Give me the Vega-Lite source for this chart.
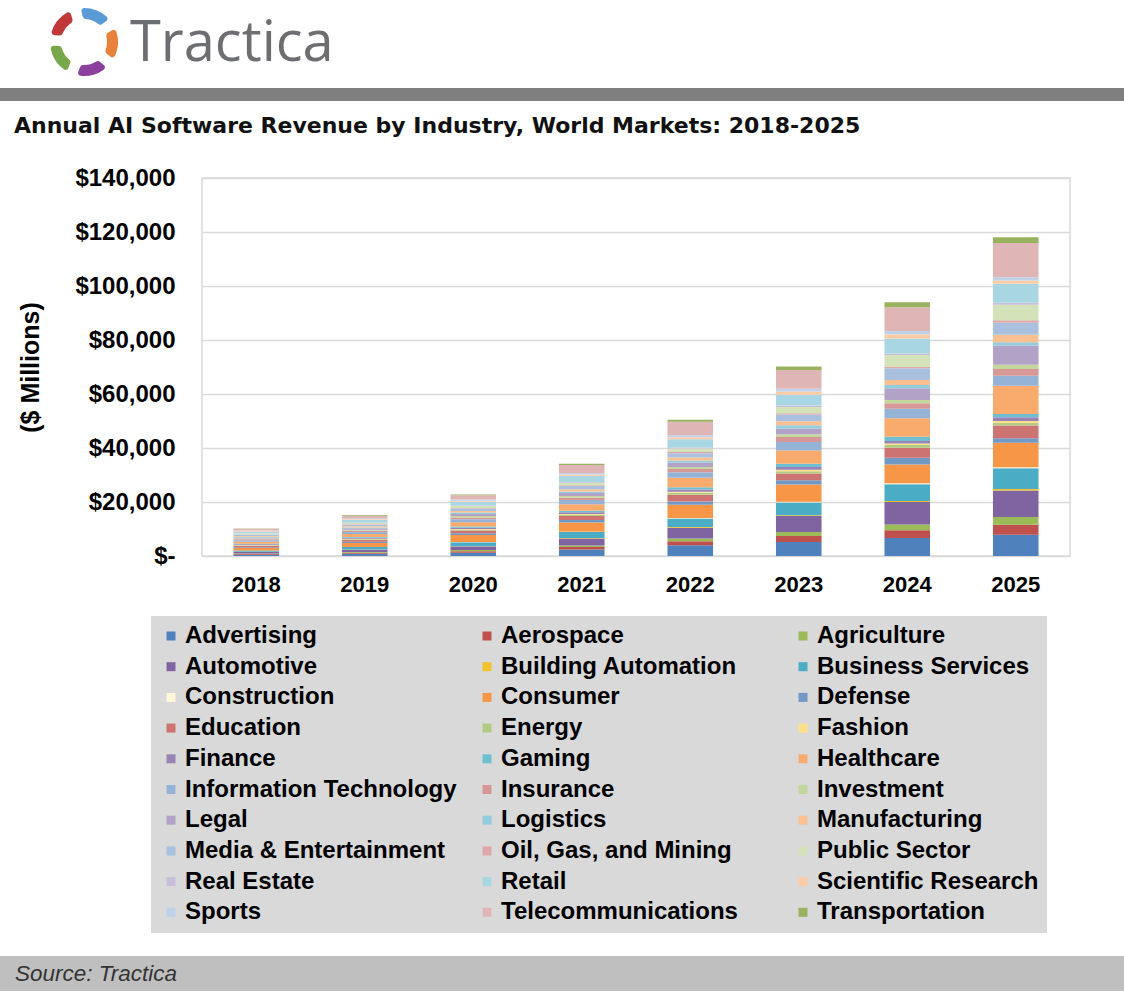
{
  "$schema": "https://vega.github.io/schema/vega-lite/v6.json",
  "padding": 0,
  "background": "white",
  "spacing": 0,
  "config": {
    "view": {"stroke": null},
    "concat": {"spacing": 0},
    "font": "Liberation Sans"
  },
  "resolve": {"scale": {"color": "independent"}, "legend": {"color": "independent"}},
  "datasets": {
    "logo": [
      {"petal": "blue", "seq": 1, "share": 1},
      {"petal": "orange", "seq": 2, "share": 1},
      {"petal": "purple", "seq": 3, "share": 1},
      {"petal": "green", "seq": 4, "share": 1},
      {"petal": "red", "seq": 5, "share": 1}
    ],
    "revenue": [
      {"year":"2018","industry":"Advertising","revenue":500},
      {"year":"2018","industry":"Aerospace","revenue":250},
      {"year":"2018","industry":"Agriculture","revenue":150},
      {"year":"2018","industry":"Automotive","revenue":600},
      {"year":"2018","industry":"Building Automation","revenue":30},
      {"year":"2018","industry":"Business Services","revenue":500},
      {"year":"2018","industry":"Construction","revenue":30},
      {"year":"2018","industry":"Consumer","revenue":900},
      {"year":"2018","industry":"Defense","revenue":300},
      {"year":"2018","industry":"Education","revenue":500},
      {"year":"2018","industry":"Energy","revenue":200},
      {"year":"2018","industry":"Fashion","revenue":100},
      {"year":"2018","industry":"Finance","revenue":250},
      {"year":"2018","industry":"Gaming","revenue":200},
      {"year":"2018","industry":"Healthcare","revenue":800},
      {"year":"2018","industry":"Information Technology","revenue":500},
      {"year":"2018","industry":"Insurance","revenue":400},
      {"year":"2018","industry":"Investment","revenue":250},
      {"year":"2018","industry":"Legal","revenue":400},
      {"year":"2018","industry":"Logistics","revenue":250},
      {"year":"2018","industry":"Manufacturing","revenue":300},
      {"year":"2018","industry":"Media & Entertainment","revenue":450},
      {"year":"2018","industry":"Oil, Gas, and Mining","revenue":100},
      {"year":"2018","industry":"Public Sector","revenue":350},
      {"year":"2018","industry":"Real Estate","revenue":100},
      {"year":"2018","industry":"Retail","revenue":700},
      {"year":"2018","industry":"Scientific Research","revenue":200},
      {"year":"2018","industry":"Sports","revenue":150},
      {"year":"2018","industry":"Telecommunications","revenue":600},
      {"year":"2018","industry":"Transportation","revenue":150},
      {"year":"2019","industry":"Advertising","revenue":800},
      {"year":"2019","industry":"Aerospace","revenue":400},
      {"year":"2019","industry":"Agriculture","revenue":250},
      {"year":"2019","industry":"Automotive","revenue":900},
      {"year":"2019","industry":"Building Automation","revenue":50},
      {"year":"2019","industry":"Business Services","revenue":900},
      {"year":"2019","industry":"Construction","revenue":50},
      {"year":"2019","industry":"Consumer","revenue":1500},
      {"year":"2019","industry":"Defense","revenue":400},
      {"year":"2019","industry":"Education","revenue":700},
      {"year":"2019","industry":"Energy","revenue":300},
      {"year":"2019","industry":"Fashion","revenue":150},
      {"year":"2019","industry":"Finance","revenue":350},
      {"year":"2019","industry":"Gaming","revenue":300},
      {"year":"2019","industry":"Healthcare","revenue":1100},
      {"year":"2019","industry":"Information Technology","revenue":700},
      {"year":"2019","industry":"Insurance","revenue":500},
      {"year":"2019","industry":"Investment","revenue":350},
      {"year":"2019","industry":"Legal","revenue":550},
      {"year":"2019","industry":"Logistics","revenue":350},
      {"year":"2019","industry":"Manufacturing","revenue":400},
      {"year":"2019","industry":"Media & Entertainment","revenue":600},
      {"year":"2019","industry":"Oil, Gas, and Mining","revenue":150},
      {"year":"2019","industry":"Public Sector","revenue":500},
      {"year":"2019","industry":"Real Estate","revenue":150},
      {"year":"2019","industry":"Retail","revenue":1000},
      {"year":"2019","industry":"Scientific Research","revenue":300},
      {"year":"2019","industry":"Sports","revenue":250},
      {"year":"2019","industry":"Telecommunications","revenue":1000},
      {"year":"2019","industry":"Transportation","revenue":250},
      {"year":"2020","industry":"Advertising","revenue":1200},
      {"year":"2020","industry":"Aerospace","revenue":600},
      {"year":"2020","industry":"Agriculture","revenue":400},
      {"year":"2020","industry":"Automotive","revenue":1300},
      {"year":"2020","industry":"Building Automation","revenue":100},
      {"year":"2020","industry":"Business Services","revenue":1500},
      {"year":"2020","industry":"Construction","revenue":100},
      {"year":"2020","industry":"Consumer","revenue":2600},
      {"year":"2020","industry":"Defense","revenue":600},
      {"year":"2020","industry":"Education","revenue":1000},
      {"year":"2020","industry":"Energy","revenue":400},
      {"year":"2020","industry":"Fashion","revenue":200},
      {"year":"2020","industry":"Finance","revenue":500},
      {"year":"2020","industry":"Gaming","revenue":400},
      {"year":"2020","industry":"Healthcare","revenue":1600},
      {"year":"2020","industry":"Information Technology","revenue":1100},
      {"year":"2020","industry":"Insurance","revenue":700},
      {"year":"2020","industry":"Investment","revenue":500},
      {"year":"2020","industry":"Legal","revenue":800},
      {"year":"2020","industry":"Logistics","revenue":500},
      {"year":"2020","industry":"Manufacturing","revenue":600},
      {"year":"2020","industry":"Media & Entertainment","revenue":900},
      {"year":"2020","industry":"Oil, Gas, and Mining","revenue":200},
      {"year":"2020","industry":"Public Sector","revenue":700},
      {"year":"2020","industry":"Real Estate","revenue":200},
      {"year":"2020","industry":"Retail","revenue":1400},
      {"year":"2020","industry":"Scientific Research","revenue":400},
      {"year":"2020","industry":"Sports","revenue":400},
      {"year":"2020","industry":"Telecommunications","revenue":1600},
      {"year":"2020","industry":"Transportation","revenue":300},
      {"year":"2021","industry":"Advertising","revenue":2400},
      {"year":"2021","industry":"Aerospace","revenue":900},
      {"year":"2021","industry":"Agriculture","revenue":600},
      {"year":"2021","industry":"Automotive","revenue":2600},
      {"year":"2021","industry":"Building Automation","revenue":150},
      {"year":"2021","industry":"Business Services","revenue":2200},
      {"year":"2021","industry":"Construction","revenue":150},
      {"year":"2021","industry":"Consumer","revenue":3400},
      {"year":"2021","industry":"Defense","revenue":900},
      {"year":"2021","industry":"Education","revenue":1500},
      {"year":"2021","industry":"Energy","revenue":500},
      {"year":"2021","industry":"Fashion","revenue":300},
      {"year":"2021","industry":"Finance","revenue":600},
      {"year":"2021","industry":"Gaming","revenue":600},
      {"year":"2021","industry":"Healthcare","revenue":2400},
      {"year":"2021","industry":"Information Technology","revenue":1500},
      {"year":"2021","industry":"Insurance","revenue":900},
      {"year":"2021","industry":"Investment","revenue":600},
      {"year":"2021","industry":"Legal","revenue":1100},
      {"year":"2021","industry":"Logistics","revenue":600},
      {"year":"2021","industry":"Manufacturing","revenue":800},
      {"year":"2021","industry":"Media & Entertainment","revenue":1200},
      {"year":"2021","industry":"Oil, Gas, and Mining","revenue":300},
      {"year":"2021","industry":"Public Sector","revenue":900},
      {"year":"2021","industry":"Real Estate","revenue":300},
      {"year":"2021","industry":"Retail","revenue":2200},
      {"year":"2021","industry":"Scientific Research","revenue":600},
      {"year":"2021","industry":"Sports","revenue":500},
      {"year":"2021","industry":"Telecommunications","revenue":3000},
      {"year":"2021","industry":"Transportation","revenue":500},
      {"year":"2022","industry":"Advertising","revenue":4000},
      {"year":"2022","industry":"Aerospace","revenue":1500},
      {"year":"2022","industry":"Agriculture","revenue":1000},
      {"year":"2022","industry":"Automotive","revenue":4000},
      {"year":"2022","industry":"Building Automation","revenue":200},
      {"year":"2022","industry":"Business Services","revenue":3200},
      {"year":"2022","industry":"Construction","revenue":200},
      {"year":"2022","industry":"Consumer","revenue":4900},
      {"year":"2022","industry":"Defense","revenue":1200},
      {"year":"2022","industry":"Education","revenue":2500},
      {"year":"2022","industry":"Energy","revenue":700},
      {"year":"2022","industry":"Fashion","revenue":400},
      {"year":"2022","industry":"Finance","revenue":800},
      {"year":"2022","industry":"Gaming","revenue":900},
      {"year":"2022","industry":"Healthcare","revenue":3500},
      {"year":"2022","industry":"Information Technology","revenue":2000},
      {"year":"2022","industry":"Insurance","revenue":1200},
      {"year":"2022","industry":"Investment","revenue":800},
      {"year":"2022","industry":"Legal","revenue":1500},
      {"year":"2022","industry":"Logistics","revenue":900},
      {"year":"2022","industry":"Manufacturing","revenue":1100},
      {"year":"2022","industry":"Media & Entertainment","revenue":1600},
      {"year":"2022","industry":"Oil, Gas, and Mining","revenue":400},
      {"year":"2022","industry":"Public Sector","revenue":1300},
      {"year":"2022","industry":"Real Estate","revenue":400},
      {"year":"2022","industry":"Retail","revenue":3000},
      {"year":"2022","industry":"Scientific Research","revenue":800},
      {"year":"2022","industry":"Sports","revenue":700},
      {"year":"2022","industry":"Telecommunications","revenue":5000},
      {"year":"2022","industry":"Transportation","revenue":800},
      {"year":"2023","industry":"Advertising","revenue":5200},
      {"year":"2023","industry":"Aerospace","revenue":2200},
      {"year":"2023","industry":"Agriculture","revenue":1500},
      {"year":"2023","industry":"Automotive","revenue":5900},
      {"year":"2023","industry":"Building Automation","revenue":300},
      {"year":"2023","industry":"Business Services","revenue":4700},
      {"year":"2023","industry":"Construction","revenue":300},
      {"year":"2023","industry":"Consumer","revenue":6400},
      {"year":"2023","industry":"Defense","revenue":1600},
      {"year":"2023","industry":"Education","revenue":2500},
      {"year":"2023","industry":"Energy","revenue":800},
      {"year":"2023","industry":"Fashion","revenue":500},
      {"year":"2023","industry":"Finance","revenue":1100},
      {"year":"2023","industry":"Gaming","revenue":1200},
      {"year":"2023","industry":"Healthcare","revenue":4900},
      {"year":"2023","industry":"Information Technology","revenue":3100},
      {"year":"2023","industry":"Insurance","revenue":1900},
      {"year":"2023","industry":"Investment","revenue":1000},
      {"year":"2023","industry":"Legal","revenue":2100},
      {"year":"2023","industry":"Logistics","revenue":1200},
      {"year":"2023","industry":"Manufacturing","revenue":1500},
      {"year":"2023","industry":"Media & Entertainment","revenue":2500},
      {"year":"2023","industry":"Oil, Gas, and Mining","revenue":500},
      {"year":"2023","industry":"Public Sector","revenue":2300},
      {"year":"2023","industry":"Real Estate","revenue":500},
      {"year":"2023","industry":"Retail","revenue":4000},
      {"year":"2023","industry":"Scientific Research","revenue":1200},
      {"year":"2023","industry":"Sports","revenue":1000},
      {"year":"2023","industry":"Telecommunications","revenue":7000},
      {"year":"2023","industry":"Transportation","revenue":1300},
      {"year":"2024","industry":"Advertising","revenue":6700},
      {"year":"2024","industry":"Aerospace","revenue":2800},
      {"year":"2024","industry":"Agriculture","revenue":2200},
      {"year":"2024","industry":"Automotive","revenue":8300},
      {"year":"2024","industry":"Building Automation","revenue":400},
      {"year":"2024","industry":"Business Services","revenue":6200},
      {"year":"2024","industry":"Construction","revenue":300},
      {"year":"2024","industry":"Consumer","revenue":7000},
      {"year":"2024","industry":"Defense","revenue":2500},
      {"year":"2024","industry":"Education","revenue":3700},
      {"year":"2024","industry":"Energy","revenue":1000},
      {"year":"2024","industry":"Fashion","revenue":600},
      {"year":"2024","industry":"Finance","revenue":900},
      {"year":"2024","industry":"Gaming","revenue":1600},
      {"year":"2024","industry":"Healthcare","revenue":6800},
      {"year":"2024","industry":"Information Technology","revenue":3500},
      {"year":"2024","industry":"Insurance","revenue":2100},
      {"year":"2024","industry":"Investment","revenue":1200},
      {"year":"2024","industry":"Legal","revenue":4300},
      {"year":"2024","industry":"Logistics","revenue":1200},
      {"year":"2024","industry":"Manufacturing","revenue":1900},
      {"year":"2024","industry":"Media & Entertainment","revenue":4300},
      {"year":"2024","industry":"Oil, Gas, and Mining","revenue":600},
      {"year":"2024","industry":"Public Sector","revenue":4300},
      {"year":"2024","industry":"Real Estate","revenue":600},
      {"year":"2024","industry":"Retail","revenue":5600},
      {"year":"2024","industry":"Scientific Research","revenue":1500},
      {"year":"2024","industry":"Sports","revenue":1200},
      {"year":"2024","industry":"Telecommunications","revenue":8800},
      {"year":"2024","industry":"Transportation","revenue":1900},
      {"year":"2025","industry":"Advertising","revenue":7900},
      {"year":"2025","industry":"Aerospace","revenue":3700},
      {"year":"2025","industry":"Agriculture","revenue":2800},
      {"year":"2025","industry":"Automotive","revenue":9900},
      {"year":"2025","industry":"Building Automation","revenue":500},
      {"year":"2025","industry":"Business Services","revenue":7700},
      {"year":"2025","industry":"Construction","revenue":400},
      {"year":"2025","industry":"Consumer","revenue":9000},
      {"year":"2025","industry":"Defense","revenue":1700},
      {"year":"2025","industry":"Education","revenue":4700},
      {"year":"2025","industry":"Energy","revenue":1000},
      {"year":"2025","industry":"Fashion","revenue":700},
      {"year":"2025","industry":"Finance","revenue":1400},
      {"year":"2025","industry":"Gaming","revenue":1200},
      {"year":"2025","industry":"Healthcare","revenue":10500},
      {"year":"2025","industry":"Information Technology","revenue":3700},
      {"year":"2025","industry":"Insurance","revenue":2500},
      {"year":"2025","industry":"Investment","revenue":1500},
      {"year":"2025","industry":"Legal","revenue":7200},
      {"year":"2025","industry":"Logistics","revenue":1200},
      {"year":"2025","industry":"Manufacturing","revenue":2700},
      {"year":"2025","industry":"Media & Entertainment","revenue":4500},
      {"year":"2025","industry":"Oil, Gas, and Mining","revenue":900},
      {"year":"2025","industry":"Public Sector","revenue":5800},
      {"year":"2025","industry":"Real Estate","revenue":700},
      {"year":"2025","industry":"Retail","revenue":7000},
      {"year":"2025","industry":"Scientific Research","revenue":1200},
      {"year":"2025","industry":"Sports","revenue":1200},
      {"year":"2025","industry":"Telecommunications","revenue":12700},
      {"year":"2025","industry":"Transportation","revenue":2200}
    ]
  },
  "vconcat": [
    {
      "resolve": {"scale": {"color": "independent"}},
      "hconcat": [
        {"width": 50, "height": 84, "data": {"values": []}, "mark": {"type": "text"}, "encoding": {}},
        {
          "width": 68, "height": 84,
          "data": {"name": "logo"},
          "mark": {"type": "arc", "radius": 34, "radius2": 23, "padAngle": 0.26, "cornerRadius": 3},
          "encoding": {
            "theta": {"field": "share", "type": "quantitative", "stack": true, "scale": {"range": [-0.26, 6.02]}},
            "color": {"field": "petal", "type": "nominal", "legend": null,
              "scale": {"domain": ["blue", "orange", "purple", "green", "red"], "range": ["#5b9bd5", "#e8823a", "#8c3f9e", "#78a84a", "#c0383a"]}},
            "order": {"field": "seq", "type": "quantitative"}
          }
        },
        {
          "width": 24, "height": 88,
          "data": {"values": [{"name": "Tractica"}]},
          "mark": {"type": "text", "align": "left", "baseline": "middle", "font": "Open Sans", "fontSize": 56, "color": "#6d6e71"},
          "encoding": {"text": {"field": "name"}}
        }
      ]
    },
    {"width": 1124, "height": 13, "view": {"fill": "#7f7f7f", "stroke": null}, "data": {"values": []}, "mark": "text", "encoding": {}},
    {
      "width": 28, "height": 64,
      "data": {"values": [{"t": "Annual AI Software Revenue by Industry, World Markets: 2018-2025"}]},
      "mark": {"type": "text", "align": "left", "baseline": "alphabetic", "font": "DejaVu Sans", "fontSize": 22, "fontWeight": "bold", "color": "#111111"},
      "encoding": {"text": {"field": "t"}}
    },
    {
      "resolve": {"legend": {"color": "independent"}},
      "hconcat": [
        {"width": 18, "height": 1, "data": {"values": []}, "mark": "text", "encoding": {}},
        {
          "width": 868, "height": 378,
          "view": {"stroke": "#d9d9d9", "strokeWidth": 1.5},
          "data": {"name": "revenue"},
          "mark": {"type": "bar", "width": {"band": 0.42}},
          "encoding": {
            "x": {"field": "year", "type": "ordinal", "scale": {"paddingInner": 0, "paddingOuter": 0},
              "axis": {"title": null, "labelFontSize": 22, "labelFontWeight": "bold", "labelColor": "#000000", "labelAngle": 0, "labelPadding": 18, "ticks": false, "tickSize": 0, "domain": false, "grid": false}},
            "y": {"field": "revenue", "type": "quantitative", "stack": "zero", "scale": {"domain": [0, 140000]},
              "axis": {"title": "($ Millions)", "titleFontSize": 25, "titleFontWeight": "bold", "titleColor": "#000000", "titlePadding": 31,
                "labelFontSize": 24, "labelFontWeight": "bold", "labelColor": "#000000", "labelPadding": 27,
                "ticks": false, "tickSize": 0, "domain": false, "gridColor": "#d9d9d9", "gridWidth": 1.5,
                "values": [0, 20000, 40000, 60000, 80000, 100000, 120000, 140000],
                "labelExpr": "datum.value == 0 ? '$-' : '$' + format(datum.value, ',')"}},
            "color": {"field": "industry", "type": "nominal",
              "scale": {
                "domain": ["Advertising", "Aerospace", "Agriculture", "Automotive", "Building Automation", "Business Services", "Construction", "Consumer", "Defense", "Education", "Energy", "Fashion", "Finance", "Gaming", "Healthcare", "Information Technology", "Insurance", "Investment", "Legal", "Logistics", "Manufacturing", "Media & Entertainment", "Oil, Gas, and Mining", "Public Sector", "Real Estate", "Retail", "Scientific Research", "Sports", "Telecommunications", "Transportation"],
                "range": ["#4F81BD", "#C0504D", "#9BBB59", "#8064A2", "#F2C12E", "#4BACC6", "#FFF5D7", "#F79646", "#7299C6", "#CD7371", "#B3CA83", "#FFE08A", "#9983B5", "#6FBFD3", "#F8AB6C", "#95B3D7", "#D69896", "#C3D69B", "#B3A2C7", "#93CDDD", "#FAC08F", "#A9C0DE", "#DDA8A7", "#D4E2BA", "#C9BEDA", "#A8D7E3", "#FBCCA6", "#BED2EA", "#E0B5B5", "#98B25E"]
              },
              "legend": {"title": null, "orient": "none", "legendX": -51, "legendY": 438, "direction": "horizontal", "columns": 3, "gridAlign": "all",
                "columnPadding": 18, "rowPadding": 6.7, "padding": 8, "fillColor": "#d9d9d9", "strokeColor": null,
                "symbolType": "square", "symbolSize": 81, "symbolStrokeWidth": 0, "symbolOpacity": 1,
                "labelFontSize": 24, "labelFontWeight": "bold", "labelColor": "#000000", "labelFont": "Liberation Sans", "labelLimit": 400, "labelOffset": 2}},
            "order": {"field": "industry", "type": "nominal", "sort": "ascending"}
          }
        }
      ]
    },
    {"width": 1124, "height": 22, "data": {"values": []}, "mark": "text", "encoding": {}},
    {
      "width": 1124, "height": 35,
      "view": {"fill": "#bfbfbf", "stroke": null},
      "data": {"values": []}, "mark": "text", "encoding": {},
      "title": {"text": "Source: Tractica", "orient": "bottom", "anchor": "start", "frame": "group", "offset": -28, "dx": 15,
        "baseline": "top", "font": "Liberation Sans", "fontSize": 22.5, "fontStyle": "italic", "fontWeight": "normal", "color": "#333333"}
    }
  ]
}
